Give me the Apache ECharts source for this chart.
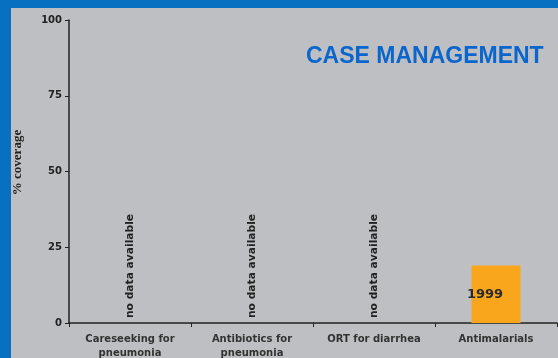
<!DOCTYPE html>
<html>
<head>
<meta charset="utf-8">
<script src="https://cdn.jsdelivr.net/npm/echarts@6/dist/echarts.min.js"></script>
<style>
  html, body { margin: 0; padding: 0; background: #0870c0; }
  #chart { position: absolute; left: 11px; top: 8px; width: 547px; height: 350px; }
</style>
</head>
<body>
<div id="chart"></div>
<script>
// categories + values
const categories = ['Careseeking for\npneumonia', 'Antibiotics for\npneumonia', 'ORT for diarrhea', 'Antimalarials'];
const coverage = [null, null, null, 19];
const yearLabels = ['', '', '', '1999'];
const yTicks = [0, 25, 50, 75, 100];

const barData = coverage.map((v, i) => {
  if (v === null) {
    // no data -> zero bar carrying a rotated note
    return {
      value: 0,
      label: {
        show: true,
        formatter: 'no data available',
        position: 'insideBottom',
        rotate: 90,
        align: 'left',
        verticalAlign: 'middle',
        distance: 5,
        color: '#222',
        fontFamily: 'DejaVu Sans',
        fontWeight: 'bold',
        fontSize: 10.7
      }
    };
  }
  return {
    value: v,
    label: {
      show: true,
      formatter: yearLabels[i],
      position: 'inside',
      offset: [-11, 0],
      color: '#2a2a2a',
      fontFamily: 'DejaVu Sans',
      fontWeight: 'bold',
      fontSize: 13
    }
  };
});

const chart = echarts.init(document.getElementById('chart'));
chart.setOption({
  backgroundColor: '#bebfc3',
  animation: false,
  title: {
    text: 'CASE MANAGEMENT',
    left: 290,
    top: 32,
    textStyle: { color: '#0a66cc', fontFamily: 'Liberation Sans', fontWeight: 'bold', fontSize: 23 }
  },
  grid: { left: 58, top: 12, right: 1, bottom: 35, containLabel: false, outerBoundsMode: 'none' },
  xAxis: {
    type: 'category',
    data: categories,
    axisLine: { lineStyle: { color: '#222', width: 1.5 } },
    axisTick: { show: true, length: 4, lineStyle: { color: '#222' } },
    axisLabel: {
      color: '#333',
      fontFamily: 'DejaVu Sans',
      fontWeight: 'bold',
      fontSize: 10,
      lineHeight: 14,
      margin: 9,
      interval: 0
    }
  },
  yAxis: {
    type: 'value',
    min: yTicks[0],
    max: yTicks[yTicks.length - 1],
    interval: 25,
    name: '% coverage',
    nameLocation: 'middle',
    nameGap: 45,
    nameTextStyle: { color: '#222', fontFamily: 'Liberation Serif', fontWeight: 'bold', fontSize: 13, padding: [0, 0, 0, 18] },
    axisLine: { show: true, lineStyle: { color: '#222', width: 1.5 } },
    axisTick: { show: true, length: 4, lineStyle: { color: '#222' } },
    splitLine: { show: false },
    axisLabel: { color: '#222', fontFamily: 'DejaVu Sans', fontWeight: 'bold', fontSize: 10, margin: 7 }
  },
  series: [{
    type: 'bar',
    data: barData,
    barWidth: 49,
    itemStyle: { color: '#f9a61c' }
  }]
});
</script>
</body>
</html>
